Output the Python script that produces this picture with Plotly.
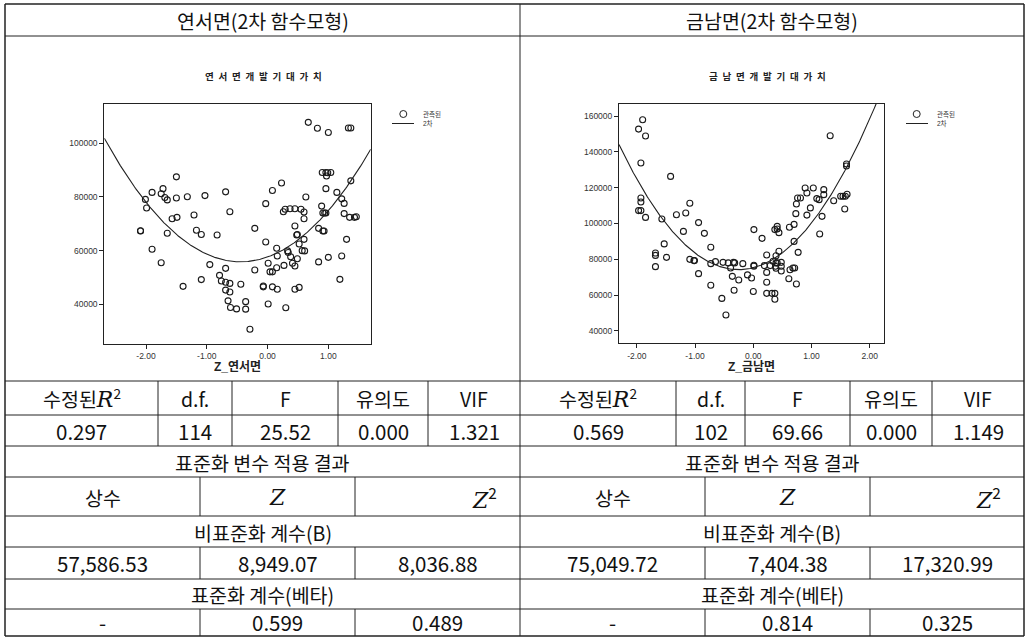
import numpy as np
import plotly.graph_objects as go

W, H = 1028, 642

# ---- 연서면: 표준화 점수 Z 와 개발기대가치 관측값 ----
yeonseo_z = [0.67, 0.82, 1.00, 1.33, 1.37, 0.90, 0.96, 1.04, 0.97, 0.99, 1.37, -1.50, 0.23,
             -1.72, -1.90, -1.75, -0.69, 0.08, 0.96, 1.14, -2.01, -1.69, -1.65, -1.50, -1.32,
             -1.03, 0.63, 1.22, -1.99, -0.03, 0.89, 1.26, -0.62, 0.26, 0.29, 0.37, 0.45, 0.55,
             0.60, 0.91, 0.94, 0.96, 1.26, 1.35, 1.43, 1.46, -1.57, -1.49, -1.21, 0.60, -2.09,
             -2.09, -1.65, -1.17, -1.09, -0.83, -0.21, 0.45, 0.48, 0.49, 0.84, 0.91, 0.93, 1.30,
             -0.03, 0.60, 0.52, 0.15, 0.33, 0.34, 0.57, 0.61, -1.90, -1.75, -0.95, -0.69, -0.21,
             0.01, 0.04, 0.08, 0.15, 0.27, 0.16, 0.38, 0.45, 0.49, 0.41, 0.84, 1.00, 1.22, 1.19,
             -1.09, -0.79, -0.76, -0.69, -0.62, -0.44, -1.39, -0.07, -0.07, 0.08, 0.16, 0.45,
             0.52, -0.69, -0.62, -0.65, -0.36, 0.01, -0.61, -0.51, -0.36, 0.30, -0.29]
yeonseo_val = [107800, 105600, 104000, 105700, 105700, 89100, 89100, 89100, 87800, 89000, 86000,
               87500, 85200, 83100, 81700, 81200, 81900, 82400, 83100, 81700, 79100, 79800,
               78900, 79600, 80100, 80500, 80000, 79300, 75900, 77500, 76600, 77600, 74500,
               74500, 75400, 75600, 75600, 75400, 74400, 74000, 74000, 74000, 73800, 72400,
               72400, 72600, 71900, 72400, 73300, 71900, 67300, 67400, 66500, 67600, 66000,
               65800, 68300, 69200, 65800, 66000, 68300, 67300, 67300, 64200, 63200, 64200,
               62500, 60900, 59900, 59300, 60000, 59900, 60500, 55500, 54800, 53400, 52800,
               55300, 52100, 52100, 53600, 54500, 58000, 57700, 54300, 57000, 55300, 55800,
               57500, 58000, 49300, 49200, 50800, 48700, 48200, 47800, 47500, 46700, 46500,
               46800, 46500, 45600, 45600, 46300, 45300, 44600, 41300, 41000, 40100, 38800,
               38300, 38200, 38700, 30700]

# ---- 금남면: 표준화 점수 Z 와 개발기대가치 관측값 ----
geumnam_z = [-1.90, -1.97, -1.85, -1.93, -1.42, -1.93, -1.93, -1.97, -1.93, -1.85, -1.57, -1.32,
             -1.16, -1.09, -1.20, -0.94, -0.84, -1.53, -1.68, -1.68, -1.68, -1.49, -1.09, -1.02,
             -1.01, -0.94, -0.73, -0.73, -0.73, -0.65, -0.52, -0.43, -0.39, -0.34, -0.32, -0.36,
             -0.25, -0.33, -0.54, -0.47, -0.18, -0.10, -0.03, 0.01, 0.01, 0.01, 0.00, 0.15, 0.23,
             0.19, 0.23, 0.23, 0.23, 0.32, 0.37, 0.37, 0.29, 0.37, 0.41, 0.41, 0.44, 0.39, 0.44,
             0.34, 0.39, 0.41, 0.48, 0.48, 0.48, 0.38, 0.39, 0.61, 0.62, 0.63, 0.68, 0.71, 0.70,
             0.70, 0.74, 0.73, 0.74, 0.76, 0.81, 0.77, 0.89, 0.92, 0.92, 0.98, 1.03, 1.09, 1.13,
             1.14, 1.18, 1.21, 1.21, 1.32, 1.38, 1.50, 1.54, 1.58, 1.61, 1.57, 1.60, 1.60]
geumnam_val = [157900, 152700, 148800, 133800, 126300, 114200, 112000, 107200, 107200, 103400,
               102500, 104900, 105900, 111300, 95600, 100500, 94500, 88600, 83500, 82200, 75900,
               81100, 80000, 79300, 79300, 72000, 86700, 65500, 77600, 78700, 78300, 78000,
               75200, 78300, 78000, 70500, 68500, 62700, 58200, 48900, 77600, 71300, 69600,
               96600, 76700, 76200, 62000, 91700, 82400, 76500, 72700, 67200, 61000, 61000,
               61000, 57700, 76500, 96600, 98400, 96900, 94900, 82000, 84500, 78900, 78000,
               78000, 78300, 76100, 73500, 76100, 75000, 69200, 97900, 74200, 75200, 75200,
               99500, 90000, 66200, 105500, 110900, 114200, 114200, 83900, 119800, 117000,
               104700, 108700, 119800, 113900, 113300, 94100, 104000, 118900, 116100, 149000,
               112700, 115200, 115200, 115200, 116300, 108100, 133200, 132100]

# ---- 회귀 결과 (비표준화 계수: 상수, Z, Z^2) ----
yeonseo_coef = [57586.53, 8949.07, 8036.88]
geumnam_coef = [75049.72, 7404.38, 17320.99]
yeonseo_beta = [0.599, 0.489]
geumnam_beta = [0.814, 0.325]
yeonseo_stats = [0.297, 114, 25.52, 0.000, 1.321]
geumnam_stats = [0.569, 102, 69.66, 0.000, 1.149]
stat_formats = ["{:.3f}", "{:d}", "{:.2f}", "{:.3f}", "{:.3f}"]

# ---- 축 눈금 ----
yeonseo_xticks = [-2, -1, 0, 1]
geumnam_xticks = [-2, -1, 0, 1, 2]
yeonseo_yticks = [40000, 60000, 80000, 100000]
geumnam_yticks = [40000, 60000, 80000, 100000, 120000, 140000, 160000]
yeonseo_xrange = [-2.686, 1.697]
yeonseo_yrange = [25214, 114637]
geumnam_xrange = [-2.306, 2.244]
geumnam_yrange = [33128, 166700]


def px(x):
    return x / W


def py(y):
    return 1 - y / H


TABLE_FONT = "Noto Sans CJK KR"
SMALL_FONT = "Liberation Sans, Noto Sans CJK KR"
fig = go.Figure()


def quad_fit(zs, vals, rng):
    # 관측값에 대한 2차 곡선 추정 (최소제곱)
    c2, c1, c0 = np.polyfit(zs, vals, 2)
    z = np.linspace(rng[0], rng[1], 300)
    return z, c0 + c1 * z + c2 * z ** 2


panels = [
    (yeonseo_z, yeonseo_val, yeonseo_xrange, "x", "y"),
    (geumnam_z, geumnam_val, geumnam_xrange, "x2", "y2"),
]
for zs, vals, xr, xa, ya in panels:
    fig.add_trace(go.Scatter(
        x=zs, y=vals, mode="markers", xaxis=xa, yaxis=ya, showlegend=False,
        marker=dict(symbol="circle-open", size=6, color="#1a1a1a", line=dict(width=1.1)),
        hoverinfo="skip"))
    cz, cy = quad_fit(zs, vals, xr)
    fig.add_trace(go.Scatter(
        x=cz, y=cy, mode="lines", xaxis=xa, yaxis=ya, showlegend=False,
        line=dict(color="#222", width=1.1), hoverinfo="skip"))

axis_common = dict(showline=True, mirror=True, linecolor="#222", linewidth=1,
                   ticks="outside", ticklen=4, tickwidth=1, tickcolor="#222",
                   showgrid=False, zeroline=False,
                   tickfont=dict(family=SMALL_FONT, size=8.5, color="#333"))

fig.update_layout(
    width=W, height=H, margin=dict(l=0, r=0, t=0, b=0),
    paper_bgcolor="white", plot_bgcolor="white", showlegend=False,
    xaxis=dict(domain=[px(104.3), px(370.7)], range=yeonseo_xrange, anchor="y",
               tickvals=yeonseo_xticks, ticktext=["%.2f" % v for v in yeonseo_xticks],
               **axis_common),
    yaxis=dict(domain=[py(344), py(104)], range=yeonseo_yrange, anchor="x",
               tickvals=yeonseo_yticks, ticktext=[str(v) for v in yeonseo_yticks],
               **axis_common),
    xaxis2=dict(domain=[px(619), px(884)], range=geumnam_xrange, anchor="y2",
                tickvals=geumnam_xticks, ticktext=["%.2f" % v for v in geumnam_xticks],
                **axis_common),
    yaxis2=dict(domain=[py(343.3), py(104)], range=geumnam_yrange, anchor="x2",
                tickvals=geumnam_yticks, ticktext=[str(v) for v in geumnam_yticks],
                **axis_common),
)

shapes = []
annotations = []


def hline(y, x0, x1, w=1):
    shapes.append(dict(type="line", xref="paper", yref="paper", x0=px(x0), x1=px(x1),
                       y0=py(y), y1=py(y), line=dict(color="#222", width=w)))


def vline(x, y0, y1, w=1):
    shapes.append(dict(type="line", xref="paper", yref="paper", x0=px(x), x1=px(x),
                       y0=py(y0), y1=py(y1), line=dict(color="#222", width=w)))


def text(x, y, s, size=17, family=TABLE_FONT, color="#111", xanchor="center"):
    annotations.append(dict(xref="paper", yref="paper", x=px(x), y=py(y), text=s,
                            showarrow=False, xanchor=xanchor, yanchor="middle",
                            font=dict(family=family, size=size, color=color)))


# ---- 표 테두리 ----
L, M, R = 5, 520, 1024
TOP, BOT = 4, 636
row_y = [36, 381, 415, 446, 477, 516, 547, 579, 609]
for y in [TOP, BOT]:
    hline(y, L, R, 1.5)
for y in row_y:
    hline(y, L, R)
for x in [L, R]:
    vline(x, TOP, BOT, 1.5)
vline(M, TOP, BOT)

stat_cols = [[L, 158, 232, 338, 428, M], [M, 676, 745, 850, 932, R]]
coef_cols = [[L, 200, 355, M], [M, 705, 870, R]]
for cols in stat_cols:
    for x in cols[1:-1]:
        vline(x, 381, 446)
for cols in coef_cols:
    for x in cols[1:-1]:
        vline(x, 477, 516)
        vline(x, 547, 579)
        vline(x, 609, 636)

math_font = "font-family:'DejaVu Serif';font-style:italic"
stat_heads = ["수정된<span style=\"%s;font-size:22px\">R</span><sup>2</sup>" % math_font,
              "d.f.", "F", "유의도", "VIF"]
titles = ["연서면(2차 함수모형)", "금남면(2차 함수모형)"]
all_stats = [yeonseo_stats, geumnam_stats]
all_coef = [yeonseo_coef, geumnam_coef]
all_beta = [yeonseo_beta, geumnam_beta]
halves = [(L, M), (M, R)]
KO = 19.5
NUM = 20.5

for k in range(2):
    hx = (halves[k][0] + halves[k][1]) / 2
    text(hx, 20, titles[k], size=KO)
    cols = stat_cols[k]
    for i in range(5):
        cx = (cols[i] + cols[i + 1]) / 2
        text(cx, 398, stat_heads[i], size=KO)
        text(cx, 431, stat_formats[i].format(all_stats[k][i]), size=NUM)
    text(hx, 462, "표준화 변수 적용 결과", size=KO)
    cc = coef_cols[k]
    c1 = (cc[0] + cc[1]) / 2
    c2 = (cc[1] + cc[2]) / 2
    c3 = (cc[2] + cc[3]) / 2
    text(c1, 497, "상수", size=KO)
    text(c2, 497, "<span style=\"%s\">Z</span>" % math_font, size=22)
    text(cc[3] - 36, 497, "<span style=\"%s\">Z</span><sup>2</sup>" % math_font, size=22)
    text(hx, 532, "비표준화 계수(B)", size=KO)
    for cx, v in zip([c1, c2, c3], all_coef[k]):
        text(cx, 563, "{:,.2f}".format(v), size=NUM)
    text(hx, 594, "표준화 계수(베타)", size=KO)
    text(c1, 622, "-", size=NUM)
    text(c2, 622, "{:.3f}".format(all_beta[k][0]), size=NUM)
    text(c3, 622, "{:.3f}".format(all_beta[k][1]), size=NUM)

# ---- 차트 제목, 축 제목, 범례 ----
spaced = "\u2002"
text(263, 77, "<b>" + spaced.join("연서면개발기대가치") + "</b>", size=9.5, family=SMALL_FONT,
     color="#222")
text(767, 77, "<b>" + spaced.join("금남면개발기대가치") + "</b>", size=9.5, family=SMALL_FONT,
     color="#222")
text(237.5, 367, "<b>Z_연서면</b>", size=12, family=SMALL_FONT, color="#222")
text(751.5, 367, "<b>Z_금남면</b>", size=12, family=SMALL_FONT, color="#222")

for lx, cx in [(392, 403.3), (906, 916.7)]:
    shapes.append(dict(type="circle", xref="paper", yref="paper",
                       x0=px(cx - 3.5), x1=px(cx + 3.5), y0=py(117.5), y1=py(110.5),
                       line=dict(color="#222", width=1)))
    shapes.append(dict(type="line", xref="paper", yref="paper", x0=px(lx), x1=px(lx + 22),
                       y0=py(123.5), y1=py(123.5), line=dict(color="#222", width=1)))
    text(lx + 29, 114, "관측된", size=6.5, family=SMALL_FONT, color="#333", xanchor="left")
    text(lx + 29, 123.5, "2차", size=6.5, family=SMALL_FONT, color="#333", xanchor="left")

fig.update_layout(shapes=shapes, annotations=annotations)
fig.write_html("out.html")
